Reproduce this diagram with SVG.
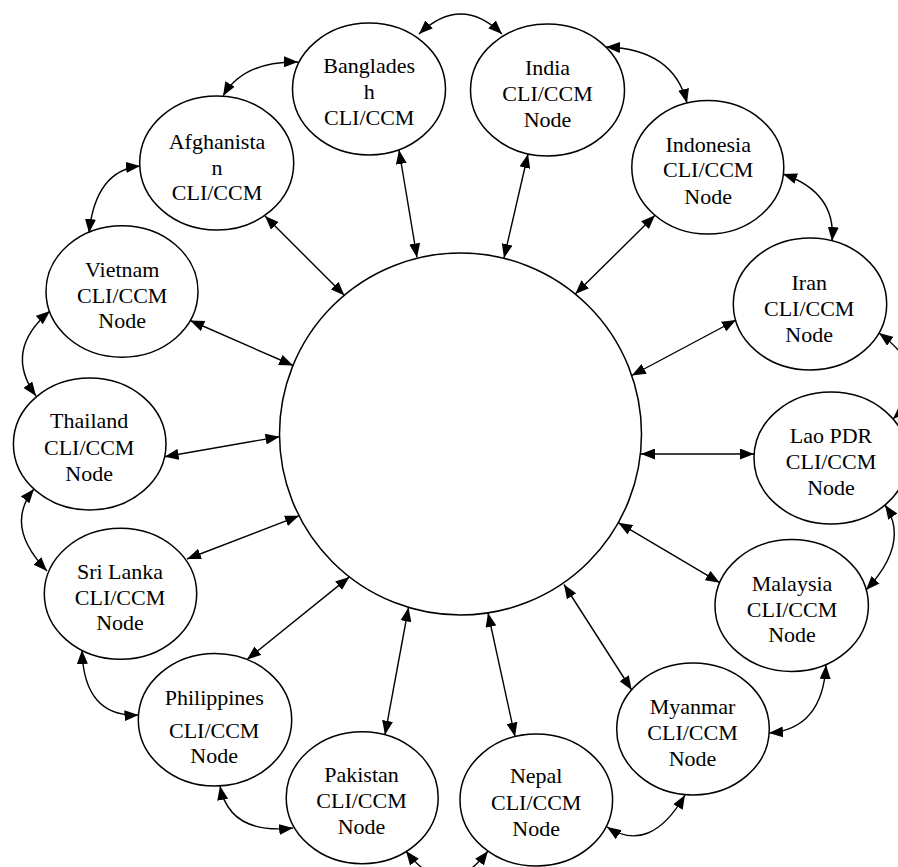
<svg xmlns="http://www.w3.org/2000/svg" width="898" height="867" viewBox="0 0 898 867">
<style>
.node ellipse{fill:#fff;stroke:#000;stroke-width:1.5}
.node text{font-family:"Liberation Serif","Times New Roman",serif;font-size:22px;fill:#000;text-anchor:middle}
#hub circle{fill:#fff;stroke:#000;stroke-width:1.5}
#connectors path{fill:none;stroke:#000;stroke-width:1.4;marker-start:url(#ah);marker-end:url(#ah)}
</style>
<defs>
<marker id="ah" viewBox="0 0 14 11" refX="14" refY="5.5" markerWidth="14" markerHeight="11" markerUnits="userSpaceOnUse" orient="auto-start-reverse"><path d="M0,0 L14,5.5 L0,11 z" fill="#000"/></marker>
</defs>
<rect width="898" height="867" fill="#fff"/>
<g id="hub"><circle cx="460.5" cy="434" r="181"/></g>
<g id="n-afghanistan" class="node"><ellipse cx="216.7" cy="163" rx="77" ry="67"/><text x="217" y="149.3">Afghanista</text><text x="217" y="175">n</text><text x="217" y="200">CLI/CCM</text></g>
<g id="n-bangladesh" class="node"><ellipse cx="369" cy="89" rx="76.5" ry="66"/><text x="369.2" y="73">Banglades</text><text x="369.2" y="99">h</text><text x="369.2" y="125">CLI/CCM</text></g>
<g id="n-india" class="node"><ellipse cx="547.5" cy="90" rx="77" ry="66"/><text x="547.5" y="75">India</text><text x="547.5" y="100.7">CLI/CCM</text><text x="547.5" y="126.7">Node</text></g>
<g id="n-indonesia" class="node"><ellipse cx="707.8" cy="167.3" rx="76" ry="66.7"/><text x="708.2" y="151.7">Indonesia</text><text x="708.2" y="177.3">CLI/CCM</text><text x="708.2" y="204">Node</text></g>
<g id="n-iran" class="node"><ellipse cx="810" cy="304" rx="76.7" ry="66"/><text x="809.2" y="290">Iran</text><text x="809.2" y="316">CLI/CCM</text><text x="809.2" y="341.7">Node</text></g>
<g id="n-lao" class="node"><ellipse cx="831" cy="458" rx="77" ry="66"/><text x="831" y="443.3">Lao PDR</text><text x="831" y="469.3">CLI/CCM</text><text x="831" y="495">Node</text></g>
<g id="n-malaysia" class="node"><ellipse cx="791.7" cy="605.5" rx="76.7" ry="66"/><text x="792" y="590.7">Malaysia</text><text x="792" y="616.7">CLI/CCM</text><text x="792" y="641.7">Node</text></g>
<g id="n-myanmar" class="node"><ellipse cx="693" cy="729" rx="76.3" ry="66"/><text x="692.5" y="714">Myanmar</text><text x="692.5" y="740">CLI/CCM</text><text x="692.5" y="765.7">Node</text></g>
<g id="n-nepal" class="node"><ellipse cx="536.3" cy="800" rx="76.3" ry="66"/><text x="536.2" y="783.3">Nepal</text><text x="536.2" y="810">CLI/CCM</text><text x="536.2" y="836">Node</text></g>
<g id="n-pakistan" class="node"><ellipse cx="362.2" cy="797.7" rx="76" ry="66"/><text x="361.5" y="781.7">Pakistan</text><text x="361.5" y="808.3">CLI/CCM</text><text x="361.5" y="834.3">Node</text></g>
<g id="n-philippines" class="node"><ellipse cx="215" cy="719.7" rx="76.7" ry="66.3"/><text x="214.2" y="705">Philippines</text><text x="214.2" y="737.7">CLI/CCM</text><text x="214.2" y="762.7">Node</text></g>
<g id="n-srilanka" class="node"><ellipse cx="120.5" cy="593.8" rx="76.2" ry="65.5"/><text x="120" y="579">Sri Lanka</text><text x="120" y="605">CLI/CCM</text><text x="120" y="630">Node</text></g>
<g id="n-thailand" class="node"><ellipse cx="89.7" cy="444" rx="76.3" ry="66"/><text x="89.2" y="428.3">Thailand</text><text x="89.2" y="455">CLI/CCM</text><text x="89.2" y="480.7">Node</text></g>
<g id="n-vietnam" class="node"><ellipse cx="122" cy="291.5" rx="76" ry="65.7"/><text x="122.2" y="277.3">Vietnam</text><text x="122.2" y="302.7">CLI/CCM</text><text x="122.2" y="328.3">Node</text></g>
<g id="connectors">
<path d="M265,216 L344.5,295.5"/>
<path d="M399,150 L417,257.5"/>
<path d="M528,154 L504,258"/>
<path d="M655,215.3 L575.3,294.1"/>
<path d="M736,320 L631.8,375.5"/>
<path d="M641,454 L754,454"/>
<path d="M719.7,582.7 L618.3,522.7"/>
<path d="M631.7,690 L564,584.5"/>
<path d="M488,613 L515,736.6"/>
<path d="M408.5,607.5 L385,734.7"/>
<path d="M247,659.5 L349.4,576.9"/>
<path d="M187,559 L299,515.8"/>
<path d="M279.5,436.7 L164.6,456.7"/>
<path d="M190.2,320.5 L293.1,365.5"/>
<path d="M419,34 Q461,-6 502,34"/>
<path d="M606,47 Q673.5,49 687,103"/>
<path d="M783,174 Q836.5,192.5 832,241"/>
<path d="M879,333 Q938,376 893,419"/>
<path d="M885,505 Q910.5,542.5 866,590"/>
<path d="M826,665 Q822.5,729 769,733"/>
<path d="M685,795 Q650,855 607,827"/>
<path d="M406,851 Q447,905 488,851"/>
<path d="M220,786 Q229.5,835 293,828"/>
<path d="M82,650 Q83.75,717.5 138.5,715"/>
<path d="M47,571 Q3.5,526 34,489"/>
<path d="M36,396 Q3,350.5 50,311"/>
<path d="M89,233 Q95.5,170.5 140,166"/>
<path d="M223,96 Q243.5,61 298,62"/>
</g>
</svg>
